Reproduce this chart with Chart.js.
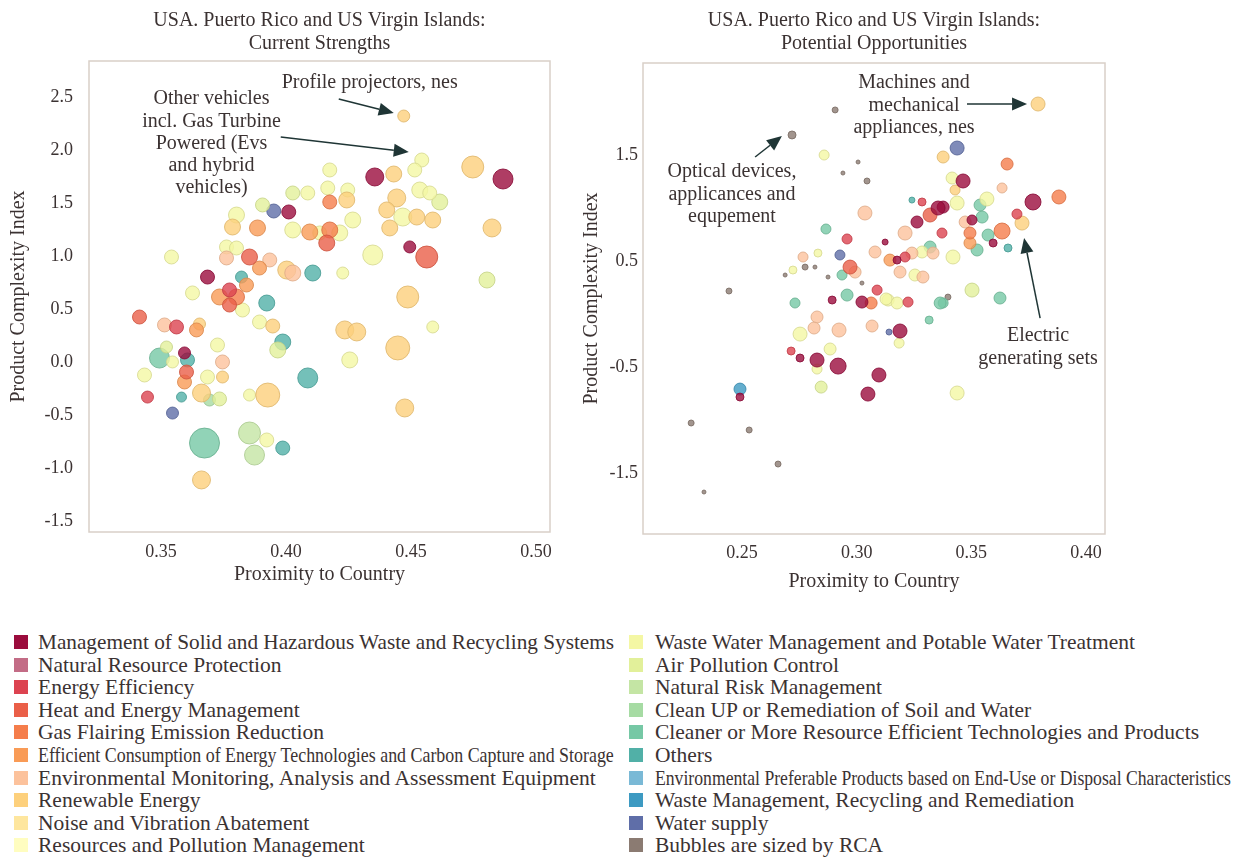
<!DOCTYPE html>
<html>
<head>
<meta charset="utf-8">
<script src="https://cdn.jsdelivr.net/npm/chart.js@4.4.1/dist/chart.umd.min.js"></script>
<style>
  body { margin: 0; background: #fff; width: 1251px; height: 858px; position: relative; overflow: hidden;
         font-family: "Liberation Serif", serif; color: #3b3232; }
  #leftWrap { position: absolute; left: 0; top: 0; }
  #rightWrap { position: absolute; left: 570px; top: 0; }
  .legend { position: absolute; top: 631px; font-size: 21.5px; line-height: 22.6px; }
  .legend div { position: relative; height: 22.6px; white-space: nowrap; }
  .legend i { position: absolute; left: 0; top: 4px; width: 14px; height: 14px; }
  .legend span { display: inline-block; transform-origin: 0 50%; }
  #legend1 { left: 14px; } #legend1 div { padding-left: 24px; }
  #legend2 { left: 629px; } #legend2 div { padding-left: 26px; }
</style>
</head>
<body>
<div id="leftWrap"><canvas id="leftChart" width="570" height="600"></canvas></div>
<div id="rightWrap"><canvas id="rightChart" width="681" height="600"></canvas></div>
<div class="legend" id="legend1"></div>
<div class="legend" id="legend2"></div>
<script>
// categories (legend order)
const categories = [
  'Management of Solid and Hazardous Waste and Recycling Systems',
  'Natural Resource Protection',
  'Energy Efficiency',
  'Heat and Energy Management',
  'Gas Flairing Emission Reduction',
  'Efficient Consumption of Energy Technologies and Carbon Capture and Storage',
  'Environmental Monitoring, Analysis and Assessment Equipment',
  'Renewable Energy',
  'Noise and Vibration Abatement',
  'Resources and Pollution Management',
  'Waste Water Management and Potable Water Treatment',
  'Air Pollution Control',
  'Natural Risk Management',
  'Clean UP or Remediation of Soil and Water',
  'Cleaner or More Resource Efficient Technologies and Products',
  'Others',
  'Environmental Preferable Products based on End-Use or Disposal Characteristics',
  'Waste Management, Recycling and Remediation',
  'Water supply',
  'Bubbles are sized by RCA'
];
const colors = ['#9b0c3d', '#c36c86', '#dc4350', '#ea5f48', '#f57d4b', '#f99b56', '#fcc29c', '#fdd07c',
  '#fee69e', '#fffdc0', '#f4f7a4', '#e2f09a', '#c4e5a4', '#a6dba3', '#76c8a5', '#51b0a7',
  '#7ab9d6', '#3d9ac2', '#5f6ea8', '#8b7b72'];

// Current strengths
const leftX = [0.4471, 0.4543, 0.4515, 0.4355, 0.4431, 0.4747, 0.4868, 0.4175, 0.4167, 0.4247,
  0.4175, 0.4243, 0.4443, 0.4535, 0.4575, 0.4615, 0.4403, 0.4467, 0.4523, 0.4587,
  0.4415, 0.4267, 0.4175, 0.4215, 0.4163, 0.4824, 0.4347, 0.4495, 0.4563, 0.4227,
  0.4804, 0.4487, 0.4235, 0.4283, 0.4587, 0.4447, 0.4255, 0.4475, 0.3414, 0.3514,
  0.3562, 0.3642, 0.3654, 0.3774, 0.3826, 0.3923, 0.3894, 0.3947, 0.3987, 0.3967,
  0.3726, 0.3522, 0.3494, 0.3594, 0.3606, 0.3546, 0.3434, 0.3602, 0.3594, 0.3686,
  0.3746, 0.3746, 0.3446, 0.3582, 0.3662, 0.3734, 0.3694, 0.3854, 0.3927, 0.4087,
  0.3546, 0.3674, 0.3854, 0.3923, 0.3874, 0.3987, 0.3662, 0.3802, 0.3906, 0.3951,
  0.4011, 0.4027, 0.4087, 0.3786, 0.3886, 0.4027, 0.4095, 0.4135, 0.3542, 0.3762,
  0.3802, 0.3854, 0.3762, 0.3935, 0.3894, 0.4003, 0.4027, 0.4107, 0.3686, 0.3822,
  0.3842, 0.3626, 0.3774, 0.3734, 0.3802];
const leftY = [2.327, 1.912, 1.818, 1.752, 1.780, 1.846, 1.733, 1.818, 1.648, 1.629,
  1.516, 1.535, 1.554, 1.629, 1.601, 1.516, 1.441, 1.374, 1.374, 1.346,
  1.271, 1.346, 1.252, 1.224, 1.129, 1.271, 1.016, 1.092, 0.997, 0.846,
  0.780, 0.620, 0.309, 0.290, 0.337, 0.139, 0.026, -0.427, 0.431, 0.356,
  0.337, 0.309, 0.365, 0.544, 0.497, 0.563, 0.384, 0.346, 0.195, 0.120,
  0.167, 0.148, 0.044, 0.092, 0.026, 0.007, -0.116, -0.088, -0.182, -0.135,
  0.007, -0.135, -0.324, -0.324, -0.286, -0.342, -0.352, -0.305, -0.305, -0.144,
  -0.475, -0.758, -0.663, -0.729, -0.871, -0.805, -1.106, 1.393, 1.488, 1.431,
  1.422, 1.601, 1.601, 1.280, 1.271, 1.252, 1.233, 1.224, 0.997, 1.092,
  1.082, 0.997, 0.988, 0.969, 0.893, 0.874, 0.846, 0.846, 0.808, 0.808,
  0.733, 0.658, 0.686, 0.620, 0.620];
const leftR = [6, 7, 7, 9, 8, 11, 10, 7, 7, 7,
  7, 8, 9, 8, 7, 8, 8, 9, 8, 8,
  8, 8, 8, 8, 8, 9, 10, 6, 11, 6,
  8, 11, 9, 9, 6, 12, 8, 9, 7, 7,
  7, 7, 6, 7, 7, 8, 7, 7, 8, 8,
  7, 6, 10, 6, 7, 6, 7, 7, 7, 7,
  7, 6, 6, 5, 9, 7, 6, 6, 12, 10,
  6, 15, 11, 7, 10, 7, 9, 8, 7, 7,
  7, 7, 7, 8, 8, 8, 8, 7, 7, 7,
  7, 8, 7, 7, 7, 9, 8, 8, 7, 6,
  7, 7, 7, 8, 8];
const leftCat = [7, 10, 10, 0, 7, 7, 0, 10, 10, 10,
  4, 7, 7, 10, 10, 11, 7, 10, 7, 7,
  7, 10, 4, 10, 3, 7, 10, 0, 3, 10,
  11, 7, 7, 7, 10, 7, 10, 7, 3, 6,
  2, 5, 7, 3, 10, 15, 10, 7, 15, 11,
  10, 11, 14, 0, 15, 10, 10, 3, 5, 10,
  6, 7, 2, 15, 7, 11, 13, 10, 7, 15,
  18, 14, 12, 10, 12, 15, 7, 10, 11, 18,
  0, 11, 10, 7, 5, 10, 5, 10, 10, 10,
  10, 3, 6, 6, 5, 7, 6, 15, 0, 15,
  5, 10, 2, 5, 4];

// Potential opportunities
const rightX = [0.3791, 0.2718, 0.2906, 0.2858, 0.3006, 0.2940, 0.3045, 0.3438, 0.3377, 0.3656,
  0.3416, 0.3464, 0.3429, 0.3634, 0.3438, 0.3538, 0.3568, 0.3769, 0.3882, 0.3699,
  0.3721, 0.3547, 0.3503, 0.3473, 0.3377, 0.3634, 0.3573, 0.3595, 0.3660, 0.3494,
  0.3494, 0.3525, 0.3420, 0.3503, 0.3625, 0.3398, 0.3377, 0.3241, 0.3285, 0.3355,
  0.3320, 0.3263, 0.3036, 0.2866, 0.2958, 0.3124, 0.3211, 0.3372, 0.3320, 0.2927,
  0.2831, 0.2766, 0.2722, 0.2688, 0.2775, 0.2818, 0.2875, 0.2971, 0.2936, 0.2993,
  0.3080, 0.3145, 0.3176, 0.3211, 0.3241, 0.3285, 0.3333, 0.3189, 0.3254, 0.3289,
  0.3023, 0.2958, 0.2893, 0.3023, 0.3089, 0.3137, 0.3176, 0.3224, 0.3364, 0.2731,
  0.2827, 0.2443, 0.3063, 0.3128, 0.3316, 0.2814, 0.2753, 0.2923, 0.3067, 0.3141,
  0.3189, 0.3185, 0.2884, 0.2714, 0.2753, 0.2827, 0.2827, 0.2919, 0.3097, 0.2845,
  0.3049, 0.3438, 0.2491, 0.2491, 0.2278, 0.2531, 0.2657, 0.2334];
const rightY = [1.981, 1.689, 1.925, 1.500, 1.434, 1.330, 1.255, 1.566, 1.481, 1.415,
  1.283, 1.255, 1.170, 1.189, 1.047, 1.028, 1.085, 1.057, 1.104, 0.943,
  0.858, 0.915, 0.887, 0.868, 1.009, 0.783, 0.745, 0.670, 0.623, 0.764,
  0.670, 0.604, 0.538, 0.226, 0.151, 0.160, 0.104, 1.075, 1.057, 1.000,
  0.934, 0.868, 0.953, 0.802, 0.708, 0.679, 0.764, 0.764, 0.632, 0.557,
  0.575, 0.538, 0.415, 0.368, 0.443, 0.443, 0.349, 0.443, 0.368, 0.396,
  0.585, 0.509, 0.509, 0.538, 0.575, 0.585, 0.575, 0.396, 0.368, 0.349,
  0.292, 0.179, 0.132, 0.113, 0.226, 0.132, 0.104, 0.113, 0.104, 0.104,
  -0.028, 0.217, 0.104, 0.142, -0.057, -0.132, -0.189, -0.151, -0.113, -0.170,
  -0.160, -0.274, -0.330, -0.349, -0.415, -0.434, -0.519, -0.491, -0.575, -0.689,
  -0.755, -0.745, -0.708, -0.783, -1.028, -1.094, -1.415, -1.679];
const rightR = [7, 4, 3, 5, 2, 2, 3, 7, 6, 6,
  6, 7, 5, 5, 7, 6, 7, 8, 7, 5,
  7, 6, 5, 6, 6, 8, 6, 4, 4, 6,
  6, 6, 7, 7, 6, 3, 5, 3, 4, 7,
  7, 6, 7, 5, 5, 3, 7, 5, 6, 5,
  4, 5, 4, 2, 3, 2, 2, 7, 5, 6,
  6, 6, 4, 5, 6, 6, 6, 6, 6, 6,
  2, 6, 4, 6, 5, 6, 6, 5, 6, 5,
  6, 3, 6, 6, 4, 6, 7, 7, 6, 3,
  7, 5, 6, 4, 4, 7, 5, 8, 7, 6,
  7, 7, 6, 4, 3, 3, 3, 2];
const rightCat = [7, 19, 19, 10, 19, 19, 19, 18, 7, 4,
  10, 0, 7, 6, 10, 14, 10, 0, 4, 2,
  7, 14, 0, 6, 0, 4, 14, 0, 15, 4,
  5, 14, 10, 11, 14, 19, 14, 15, 2, 0,
  3, 0, 6, 14, 2, 0, 6, 2, 14, 18,
  10, 6, 10, 19, 19, 19, 19, 3, 14, 6,
  6, 5, 0, 2, 6, 10, 6, 6, 10, 6,
  19, 14, 0, 0, 2, 10, 10, 2, 14, 14,
  6, 19, 4, 10, 14, 6, 10, 6, 6, 18,
  0, 10, 10, 2, 0, 0, 10, 0, 0, 11,
  0, 10, 17, 0, 19, 19, 19, 19];

const leftXTicks = [0.35, 0.40, 0.45, 0.50];
const leftYTicks = [-1.5, -1.0, -0.5, 0.0, 0.5, 1.0, 1.5, 2.0, 2.5];
const rightXTicks = [0.25, 0.30, 0.35, 0.40];
const rightYTicks = [-1.5, -0.5, 0.5, 1.5];

const textColor = '#3b3232';
const serif = '"Liberation Serif", "Times New Roman", serif';

function rgba(hex, a, k) {
  k = k || 1;
  const n = parseInt(hex.slice(1), 16);
  return `rgba(${Math.round((n >> 16 & 255) * k)},${Math.round((n >> 8 & 255) * k)},${Math.round((n & 255) * k)},${a})`;
}

function buildDatasets(xs, ys, rs, cats) {
  return categories.map((name, c) => ({
    label: name,
    data: xs.map((x, i) => ({ x: x, y: ys[i], r: rs[i], c: cats[i] })).filter(p => p.c === c),
    backgroundColor: rgba(colors[c], 0.8),
    borderColor: rgba(colors[c], 0.85, 0.88),
    borderWidth: 1
  })).filter(d => d.data.length);
}

// light box around the plot area
const framePlugin = {
  id: 'frame',
  beforeDatasetsDraw(chart) {
    const { ctx, chartArea: a } = chart;
    ctx.save();
    ctx.strokeStyle = '#d9cfc8';
    ctx.lineWidth = 1.5;
    ctx.strokeRect(a.left, a.top, a.right - a.left, a.bottom - a.top);
    ctx.restore();
  }
};

function drawArrow(ctx, x1, y1, x2, y2) {
  const ang = Math.atan2(y2 - y1, x2 - x1), L = 15, W = 6.5;
  const bx = x2 - L * Math.cos(ang), by = y2 - L * Math.sin(ang);
  ctx.strokeStyle = ctx.fillStyle = '#1f3535';
  ctx.lineWidth = 1.5;
  ctx.beginPath(); ctx.moveTo(x1, y1); ctx.lineTo(bx, by); ctx.stroke();
  ctx.beginPath();
  ctx.moveTo(x2, y2);
  ctx.lineTo(bx + W * Math.sin(ang), by - W * Math.cos(ang));
  ctx.lineTo(bx - W * Math.sin(ang), by + W * Math.cos(ang));
  ctx.closePath(); ctx.fill();
}

// text callouts, anchored in data units
function notesPlugin(notes) {
  return {
    id: 'notes',
    afterDatasetsDraw(chart) {
      const { ctx, scales: { x, y } } = chart;
      ctx.save();
      notes.forEach(n => {
        ctx.font = '20px ' + serif;
        ctx.fillStyle = textColor;
        ctx.textAlign = 'center';
        ctx.textBaseline = 'middle';
        const px = x.getPixelForValue(n.x), py = y.getPixelForValue(n.y);
        n.lines.forEach((t, i) => ctx.fillText(t, px, py + i * 22.3));
        drawArrow(ctx, x.getPixelForValue(n.from[0]), y.getPixelForValue(n.from[1]),
          x.getPixelForValue(n.to[0]), y.getPixelForValue(n.to[1]));
      });
      ctx.restore();
    }
  };
}

function makeChart(id, o) {
  return new Chart(document.getElementById(id), {
    type: 'bubble',
    data: { datasets: buildDatasets(o.xs, o.ys, o.rs, o.cats) },
    options: {
      responsive: false,
      animation: false,
      events: [],
      layout: { padding: { left: 0, right: o.padRight, top: 0, bottom: 0 } },
      plugins: {
        legend: { display: false },
        tooltip: { enabled: false },
        title: {
          display: true, text: o.title, fullSize: false, color: textColor,
          font: { family: serif, size: 20, weight: 'normal', lineHeight: 1.15 },
          padding: { top: 9.5, bottom: o.titleGap }
        }
      },
      scales: {
        x: {
          type: 'linear', min: o.xMin, max: o.xMax,
          grid: { display: false, drawTicks: false }, border: { display: false },
          afterBuildTicks: s => { s.ticks = o.xTicks.map(v => ({ value: v })); },
          afterFit: s => { s.height = o.xHeight; },
          ticks: { padding: o.xPad, color: textColor, font: { family: serif, size: 18 },
                   callback: v => Number(v).toFixed(2) },
          title: { display: true, text: 'Proximity to Country', color: textColor,
                   font: { family: serif, size: 20 }, padding: { top: 0, bottom: o.xTitlePad } }
        },
        y: {
          type: 'linear', min: o.yMin, max: o.yMax,
          grid: { display: false, drawTicks: false }, border: { display: false },
          afterBuildTicks: s => { s.ticks = o.yTicks.map(v => ({ value: v })); },
          afterFit: s => { s.width = o.yWidth; },
          ticks: { padding: o.yPad, color: textColor, font: { family: serif, size: 18 },
                   callback: v => Number(v).toFixed(1) },
          title: { display: true, text: 'Product Complexity Index', color: textColor,
                   font: { family: serif, size: 20 }, padding: { top: o.yTitlePad, bottom: 0 } }
        }
      }
    },
    plugins: [framePlugin, notesPlugin(o.notes)]
  });
}

makeChart('leftChart', {
  xs: leftX, ys: leftY, rs: leftR, cats: leftCat,
  title: ['USA. Puerto Rico and US Virgin Islands:', 'Current Strengths'],
  xMin: 0.3212, xMax: 0.5056, yMin: -1.597, yMax: 2.846,
  xTicks: leftXTicks, yTicks: leftYTicks,
  padRight: 20, titleGap: 5.5, xHeight: 68, yWidth: 89,
  xPad: 9, yPad: 16, xTitlePad: 13.6, yTitlePad: 6.6,
  notes: [
    { lines: ['Profile projectors, nes'], x: 0.4335, y: 2.639, from: [0.4211, 2.488], to: [0.4431, 2.356] },
    { lines: ['Other vehicles', 'incl. Gas Turbine', 'Powered (Evs', 'and hybrid', 'vehicles)'],
      x: 0.3702, y: 2.488, from: [0.3979, 2.129], to: [0.4491, 1.988] }
  ]
});

makeChart('rightChart', {
  xs: rightX, ys: rightY, rs: rightR, cats: rightCat,
  title: ['USA. Puerto Rico and US Virgin Islands:', 'Potential Opportunities'],
  xMin: 0.2068, xMax: 0.4083, yMin: -2.075, yMax: 2.368,
  xTicks: rightXTicks, yTicks: rightYTicks,
  padRight: 146, titleGap: 7.5, xHeight: 66, yWidth: 73,
  xPad: 8, yPad: 5, xTitlePad: 6.6, yTitlePad: 9.6,
  notes: [
    { lines: ['Machines and', 'mechanical', 'appliances, nes'], x: 0.3250, y: 2.179, from: [0.3481, 1.981], to: [0.3743, 1.981] },
    { lines: ['Optical devices,', 'applicances and', 'equpement'], x: 0.2456, y: 1.340, from: [0.2557, 1.481], to: [0.2674, 1.679] },
    { lines: ['Electric', 'generating sets'], x: 0.3791, y: -0.208, from: [0.3800, -0.038], to: [0.3730, 0.717] }
  ]
});

// legend, two columns of ten
function fillLegend(el, from, to) {
  for (let c = from; c < to; c++) {
    const row = document.createElement('div');
    row.innerHTML = `<i style="background:${colors[c]}"></i><span>${categories[c]}</span>`;
    el.appendChild(row);
  }
}
fillLegend(document.getElementById('legend1'), 0, 10);
fillLegend(document.getElementById('legend2'), 10, 20);
document.querySelectorAll('.legend span').forEach(s => {
  const w = s.offsetWidth, maxW = 576;
  if (w > maxW) s.style.transform = `scaleX(${maxW / w})`;
});
</script>
</body>
</html>
